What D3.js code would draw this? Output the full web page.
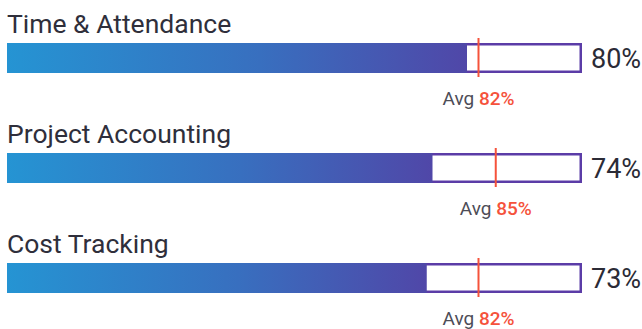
<!DOCTYPE html>
<html>
<head>
<meta charset="utf-8">
<script src="https://cdn.jsdelivr.net/npm/d3@7"></script>
<style>
  html, body { margin: 0; padding: 0; background: #ffffff; }
  svg { display: block; }
  text { font-family: Roboto, "Noto Sans", sans-serif; }
</style>
</head>
<body>
<svg id="chart" width="642" height="329"></svg>
<script>
// Module adoption vs. average
const categories = ["Time & Attendance", "Project Accounting", "Cost Tracking"];
const values = [80, 74, 73];
const averages = [82, 85, 82];
const avgLabel = "Avg";

const width = 642, height = 329;
const svg = d3.select("#chart");

const barH = 30;
const x = d3.scaleLinear().domain([0, 100]).range([7, 582]);
const y = d3.scalePoint().domain(categories).range([43, 263]);

const defs = svg.append("defs");
const grad = defs.append("linearGradient")
  .attr("id", "barFill")
  .attr("x1", "0%").attr("x2", "100%")
  .attr("y1", "0%").attr("y2", "0%");
grad.append("stop").attr("offset", "0%").attr("stop-color", "#2594d3");
grad.append("stop").attr("offset", "55%").attr("stop-color", "#386fbf");
grad.append("stop").attr("offset", "100%").attr("stop-color", "#5047a8");

const rows = categories.map((c, i) => ({ cat: c, value: values[i], avg: averages[i] }));

const g = svg.selectAll("g.row").data(rows).join("g").attr("class", "row")
  .attr("transform", d => `translate(0,${y(d.cat)})`);

// category title
g.append("text")
  .attr("x", 7).attr("y", -10)
  .attr("font-size", 26.5)
  .attr("fill", "#2f2f3b")
  .text(d => d.cat);

// empty track with frame
const sw = 2.5;
g.append("rect")
  .attr("x", x(0) + sw / 2).attr("y", sw / 2)
  .attr("width", x(100) - x(0) - sw).attr("height", barH - sw)
  .attr("fill", "#ffffff")
  .attr("stroke", "#5b3ca7").attr("stroke-width", sw);

// value bar
g.append("rect")
  .attr("x", x(0)).attr("y", 0)
  .attr("width", d => x(d.value) - x(0)).attr("height", barH)
  .attr("fill", "url(#barFill)");

// average marker
g.append("line")
  .attr("x1", d => x(d.avg)).attr("x2", d => x(d.avg))
  .attr("y1", -5).attr("y2", barH + 4)
  .attr("stroke", "#f5523b").attr("stroke-width", 2);

// value label
g.append("text")
  .attr("x", 591).attr("y", barH / 2 + 9.5)
  .attr("font-size", 27)
  .attr("fill", "#2b2b36")
  .text(d => d.value + "%");

// average label
const avgText = g.append("text")
  .attr("x", d => x(d.avg)).attr("y", barH + 31.5)
  .attr("text-anchor", "middle")
  .attr("font-size", 19);
avgText.append("tspan").attr("fill", "#4d4d57").text(avgLabel + " ");
avgText.append("tspan").attr("fill", "#f5523b").attr("font-weight", 500).text(d => d.avg + "%");
</script>
</body>
</html>
